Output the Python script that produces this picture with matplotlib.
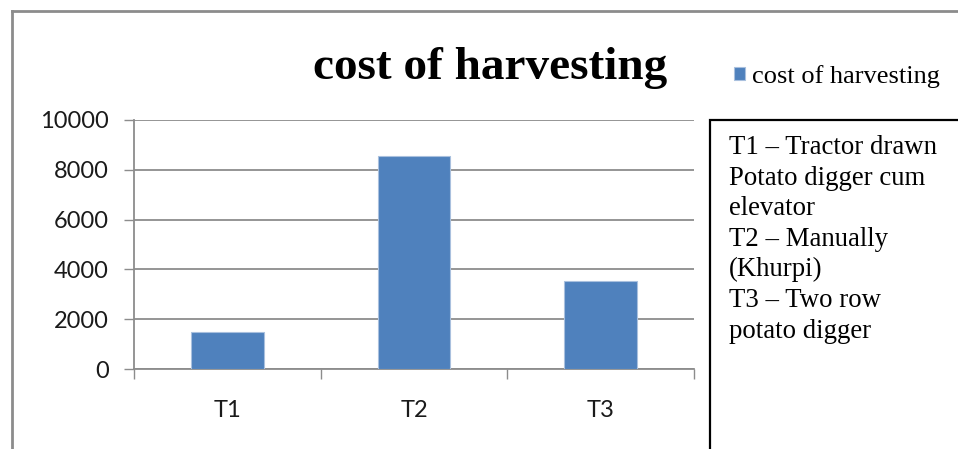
import numpy as np
import matplotlib.pyplot as plt
from matplotlib.patches import Rectangle
from matplotlib.lines import Line2D

categories = ['T1', 'T2', 'T3']
cost = [1466, 8538, 3522]
series_name = 'cost of harvesting'
title = 'cost of harvesting'
note_lines = [
    'T1 \u2013 Tractor drawn',
    'Potato digger cum',
    'elevator',
    'T2 \u2013 Manually',
    '(Khurpi)',
    'T3 \u2013 Two row',
    'potato digger',
]
yticks = [0, 2000, 4000, 6000, 8000, 10000]

W, H = 958, 449
fig = plt.figure(figsize=(W / 100, H / 100), dpi=100)
fig.patch.set_facecolor('white')


def fx(px):
    return px / W


def fy(py):
    return 1 - py / H


ax = fig.add_axes([fx(134), fy(369), fx(694) - fx(134), fy(120) - fy(369)])
grey = '#8c8c8c'
x = np.arange(len(categories))
ax.bar(x, cost, width=0.39, color='#4f81bd', edgecolor='#a9c0de', linewidth=0.8,
       label=series_name, zorder=3)
ax.set_xlim(-0.5, len(categories) - 0.5)
ax.set_ylim(0, 10000)
ax.set_yticks(yticks)
ax.set_yticklabels([str(v) for v in yticks], fontfamily='Lato', fontsize=17, color='#1a1a1a')
ax.yaxis.grid(True, color=grey, linewidth=1.3, zorder=0)
ax.tick_params(axis='y', length=7, width=1, color=grey, pad=11)

# category boundaries carry the tick marks, labels sit at the centres
ax.set_xticks(np.arange(len(categories) + 1) - 0.5)
ax.set_xticklabels([])
ax.set_xticks(x, minor=True)
ax.set_xticklabels(categories, minor=True, fontfamily='Lato', fontsize=17, color='#1a1a1a')
ax.tick_params(axis='x', which='major', length=7, width=1, color=grey)
ax.tick_params(axis='x', which='minor', length=0, pad=22)

for s in ['top', 'right']:
    ax.spines[s].set_visible(False)
for s in ['left', 'bottom']:
    ax.spines[s].set_color(grey)
    ax.spines[s].set_linewidth(1.3)

# title and legend
fig.text(fx(490), fy(79), title, ha='center', va='baseline',
         fontfamily='Liberation Serif', fontweight='bold', fontsize=34)
ax.legend(loc='lower left', bbox_to_anchor=(fx(734), fy(88)), bbox_transform=fig.transFigure,
          frameon=False, prop={'family': 'Liberation Serif', 'size': 19},
          handlelength=0.42, handleheight=0.42, handletextpad=0.25, borderpad=0, borderaxespad=0)

# explanation box (runs off the right and bottom edges)
fig.patches.append(Rectangle((fx(710), -0.2), 1, fy(120) + 0.2, transform=fig.transFigure,
                             fill=False, edgecolor='black', linewidth=1.6))
for i, line in enumerate(note_lines):
    fig.text(fx(729), fy(154 + i * 30.6), line, ha='left', va='baseline',
             fontfamily='Liberation Serif', fontsize=19.3)

# outer chart frame
fig.lines.append(Line2D([fx(12), fx(12)], [0, fy(11)], transform=fig.transFigure,
                        color=grey, linewidth=2))
fig.lines.append(Line2D([fx(12), 1], [fy(11), fy(11)], transform=fig.transFigure,
                        color=grey, linewidth=2))

fig.savefig('out.png', dpi=100)
